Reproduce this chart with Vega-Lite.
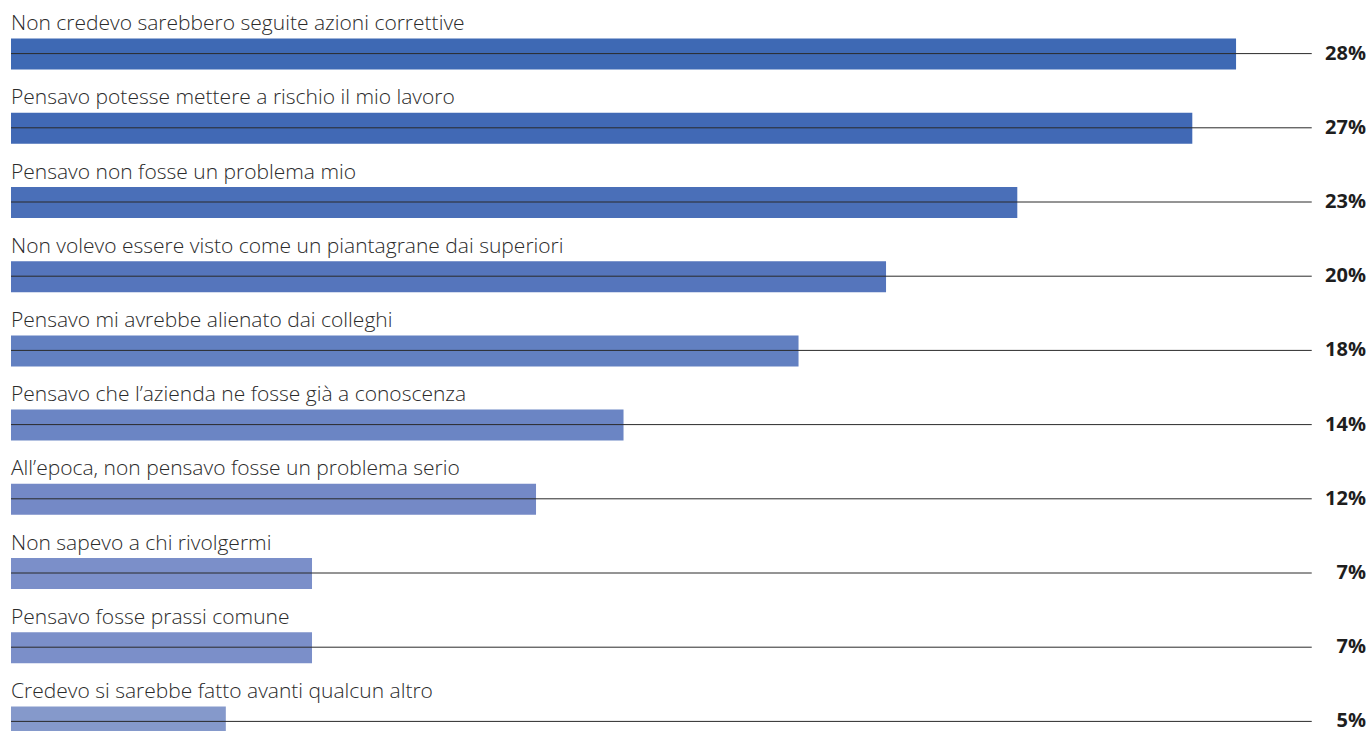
{
  "$schema": "https://vega.github.io/schema/vega-lite/v6.json",
  "width": 1355,
  "height": 742,
  "autosize": {"type": "none"},
  "padding": {"left": 11, "top": 0, "right": 0, "bottom": 0},
  "background": "white",
  "config": {"view": {"stroke": null}},
  "data": {
    "values": [
      {"cat": "Non credevo sarebbero seguite azioni correttive", "value": 28, "pct": "28%"},
      {"cat": "Pensavo potesse mettere a rischio il mio lavoro", "value": 27, "pct": "27%"},
      {"cat": "Pensavo non fosse un problema mio", "value": 23, "pct": "23%"},
      {"cat": "Non volevo essere visto come un piantagrane dai superiori", "value": 20, "pct": "20%"},
      {"cat": "Pensavo mi avrebbe alienato dai colleghi", "value": 18, "pct": "18%"},
      {"cat": "Pensavo che l’azienda ne fosse già a conoscenza", "value": 14, "pct": "14%"},
      {"cat": "All’epoca, non pensavo fosse un problema serio", "value": 12, "pct": "12%"},
      {"cat": "Non sapevo a chi rivolgermi", "value": 6.88, "pct": "7%"},
      {"cat": "Pensavo fosse prassi comune", "value": 6.88, "pct": "7%"},
      {"cat": "Credevo si sarebbe fatto avanti qualcun altro", "value": 4.91, "pct": "5%"}
    ]
  },
  "encoding": {
    "y": {"field": "cat", "type": "nominal", "sort": null, "axis": null,
          "scale": {"paddingInner": 0, "paddingOuter": 0}}
  },
  "layer": [
    {
      "mark": {"type": "bar", "height": 31, "yOffset": 17},
      "encoding": {
        "x": {"field": "value", "type": "quantitative", "axis": null,
              "scale": {"domain": [0, 30.97], "nice": false, "zero": true}},
        "color": {"field": "cat", "type": "nominal", "legend": null, "sort": null,
          "scale": {
            "domain": [
              "Non credevo sarebbero seguite azioni correttive",
              "Pensavo potesse mettere a rischio il mio lavoro",
              "Pensavo non fosse un problema mio",
              "Non volevo essere visto come un piantagrane dai superiori",
              "Pensavo mi avrebbe alienato dai colleghi",
              "Pensavo che l’azienda ne fosse già a conoscenza",
              "All’epoca, non pensavo fosse un problema serio",
              "Non sapevo a chi rivolgermi",
              "Pensavo fosse prassi comune",
              "Credevo si sarebbe fatto avanti qualcun altro"
            ],
            "range": ["#3e69b4", "#4169b5", "#4a6fb8", "#5575bc", "#6280c1", "#6b85c4", "#7489c6", "#7b8fc9", "#7b8fc9", "#8599cb"]
          }}
      }
    },
    {
      "mark": {"type": "rule", "color": "#2a2a2a", "strokeWidth": 1, "yOffset": 16.5},
      "encoding": {
        "x": {"datum": 0, "type": "quantitative"},
        "x2": {"datum": 29.73}
      }
    },
    {
      "mark": {"type": "text", "align": "left", "baseline": "alphabetic", "yOffset": -7,
               "font": "Open Sans", "fontWeight": 300, "fontSize": 21, "color": "#2b2b2b"},
      "encoding": {
        "x": {"datum": 0, "type": "quantitative"},
        "text": {"field": "cat"}
      }
    },
    {
      "mark": {"type": "text", "align": "right", "baseline": "middle", "yOffset": 16.5,
               "font": "Open Sans", "fontWeight": "bold", "fontSize": 20, "color": "#1e1e1e"},
      "encoding": {
        "x": {"value": "width"},
        "text": {"field": "pct"}
      }
    }
  ]
}
